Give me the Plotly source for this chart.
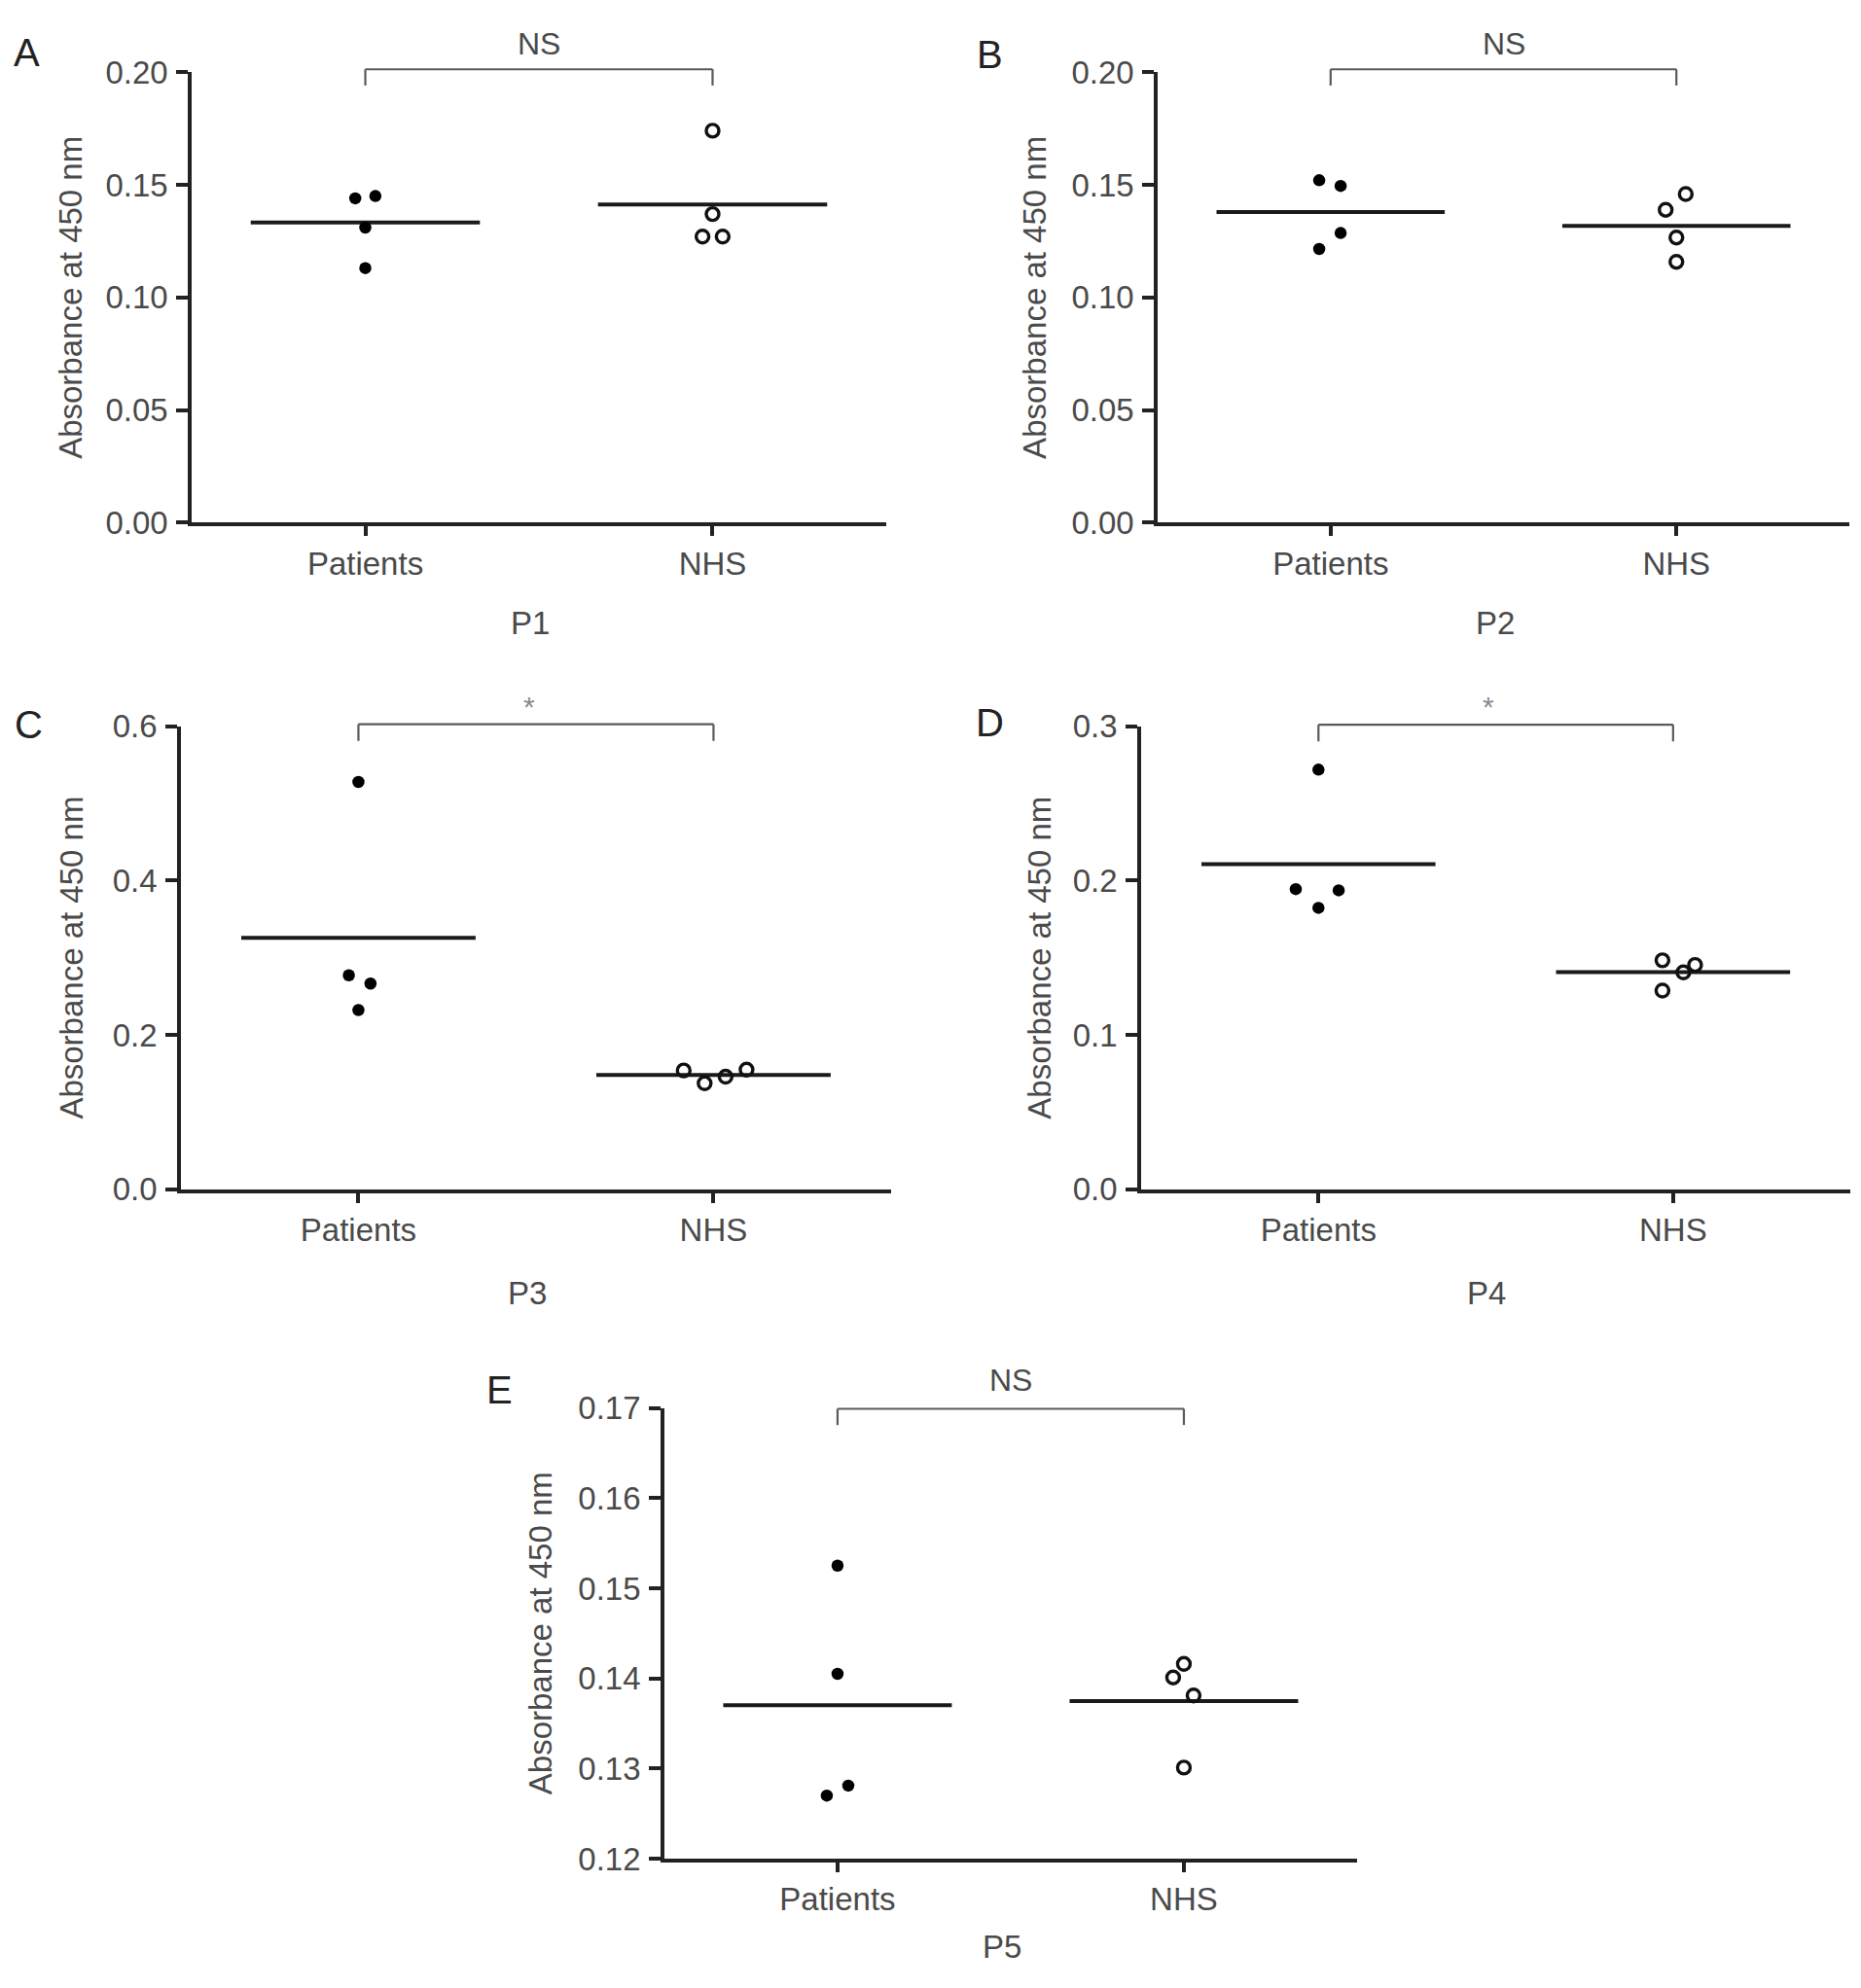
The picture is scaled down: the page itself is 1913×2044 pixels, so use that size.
import numpy as np
import plotly.graph_objects as go

# groups on every panel
groups = ["Patients", "NHS"]

# absorbance values
p1_patients = [0.144, 0.145, 0.131, 0.113]
p1_nhs = [0.174, 0.137, 0.127, 0.127]
p2_patients = [0.152, 0.1495, 0.1286, 0.1215]
p2_nhs = [0.1459, 0.1389, 0.1266, 0.1158]
p3_patients = [0.5276, 0.2772, 0.2665, 0.2322]
p3_nhs = [0.1539, 0.1373, 0.1458, 0.155]
p4_patients = [0.2718, 0.1944, 0.1936, 0.1823]
p4_nhs = [0.1483, 0.1405, 0.1453, 0.1287]
p5_patients = [0.1525, 0.1405, 0.1281, 0.127]
p5_nhs = [0.1416, 0.1401, 0.1381, 0.1301]

p_labels = ["P1", "P2", "P3", "P4", "P5"]
sig_labels = ["NS", "NS", "*", "*", "NS"]
panel_letters = ["A", "B", "C", "D", "E"]

y_tick_vals = [
    [0.0, 0.05, 0.10, 0.15, 0.20],
    [0.0, 0.05, 0.10, 0.15, 0.20],
    [0.0, 0.2, 0.4, 0.6],
    [0.0, 0.1, 0.2, 0.3],
    [0.12, 0.13, 0.14, 0.15, 0.16, 0.17],
]

# horizontal scatter of the dots (category units)
pat_jit = [
    [-0.029, 0.029, 0.0, 0.0],
    [-0.033, 0.029, 0.029, -0.033],
    [0.0, -0.027, 0.034, 0.0],
    [0.0, -0.064, 0.057, 0.0],
    [0.0, 0.0, 0.031, -0.031],
]
nhs_jit = [
    [0.0, 0.0, -0.029, 0.029],
    [0.027, -0.031, 0.0, 0.0],
    [-0.084, -0.025, 0.034, 0.093],
    [-0.03, 0.029, 0.062, -0.03],
    [0.0, -0.031, 0.028, 0.0],
]

panels = [
    (p1_patients, p1_nhs),
    (p2_patients, p2_nhs),
    (p3_patients, p3_nhs),
    (p4_patients, p4_nhs),
    (p5_patients, p5_nhs),
]

# layout of the five panels (paper fractions)
x_domains = [[0.1030, 0.4762], [0.6221, 0.9937], [0.0972, 0.4788], [0.6132, 0.9943], [0.3570, 0.7292]]
y_domains = [[0.7412, 0.9720], [0.7412, 0.9720], [0.3997, 0.6370], [0.3997, 0.6370], [0.0568, 0.2877]]
y_ranges = [[0, 0.2], [0, 0.2], [0, 0.6], [0, 0.3], [0.12, 0.17]]
y_formats = [".2f", ".2f", ".1f", ".1f", ".2f"]
ytitle_shift = [-124, -126, -112, -104, -128]
plabel_shift = [-103, -103, -107, -107, -90]
bracket_top = [1.0064, 1.0064, 1.004, 1.003, 0.998]
letter_pos = [(0.0146, 0.9819), (0.5321, 0.9809), (0.0154, 0.6377), (0.5321, 0.6387), (0.2686, 0.2970)]

FONT = "Liberation Sans"
GREY = "#4a4a4a"
AXIS = "#222222"

fig = go.Figure()
annotations = []
shapes = []

for i, (pat, nhs) in enumerate(panels):
    n = "" if i == 0 else str(i + 1)
    xa, ya = "x" + n, "y" + n

    # mean lines
    for k, vals in enumerate((pat, nhs)):
        m = np.mean(vals)
        fig.add_trace(go.Scatter(
            x=[k - 0.33, k + 0.33], y=[m, m],
            mode="lines", xaxis=xa, yaxis=ya,
            line=dict(color="#1a1a1a", width=4),
        ))

    fig.add_trace(go.Scatter(
        x=[0 + j for j in pat_jit[i]], y=pat,
        mode="markers", xaxis=xa, yaxis=ya,
        marker=dict(size=12.5, color="black"),
        cliponaxis=False,
    ))
    fig.add_trace(go.Scatter(
        x=[1 + j for j in nhs_jit[i]], y=nhs,
        mode="markers", xaxis=xa, yaxis=ya,
        marker=dict(size=13, color="rgba(255,255,255,0)", line=dict(color="#111111", width=3.4)),
        cliponaxis=False,
    ))

    fig.layout["xaxis" + n] = dict(
        domain=x_domains[i], anchor=ya, range=[-0.5, 1.5],
        tickvals=[0, 1], ticktext=groups,
        showline=True, linecolor=AXIS, linewidth=3.6,
        ticks="outside", ticklen=10, tickwidth=3.5, tickcolor=AXIS,
        showgrid=False, zeroline=False, ticklabelstandoff=0,
        tickfont=dict(family=FONT, size=33, color=GREY),
    )
    fig.layout["yaxis" + n] = dict(
        domain=y_domains[i], anchor=xa, range=y_ranges[i],
        tickvals=y_tick_vals[i], tickformat=y_formats[i],
        showline=True, linecolor=AXIS, linewidth=3.6,
        ticks="outside", ticklen=12, tickwidth=3.5, tickcolor=AXIS,
        showgrid=False, zeroline=False, ticklabelstandoff=2,
        tickfont=dict(family=FONT, size=33, color=GREY),
    )

    # significance bracket
    top = bracket_top[i]
    low = top - 0.036
    for x0, y0, x1, y1 in [(0, top, 1, top), (0, low, 0, top), (1, low, 1, top)]:
        shapes.append(dict(
            type="line", xref=xa, yref=ya + " domain",
            x0=x0, y0=y0, x1=x1, y1=y1,
            line=dict(color="#5a5a5a", width=2.2),
        ))
    star = sig_labels[i] == "*"
    annotations.append(dict(
        text=sig_labels[i], xref=xa, yref=ya + " domain",
        x=0.48 if star else 0.5, y=1.042 if star else 1.062, showarrow=False,
        xanchor="center", yanchor="middle",
        font=dict(family=FONT, size=30 if star else 32, color="#8a8a8a" if star else GREY),
    ))
    # y axis title
    annotations.append(dict(
        text="Absorbance at 450 nm", xref=xa + " domain", yref=ya + " domain",
        x=0, y=0.5, xshift=ytitle_shift[i], textangle=-90, showarrow=False,
        xanchor="center", yanchor="middle",
        font=dict(family=FONT, size=33, color=GREY),
    ))
    # panel group label
    annotations.append(dict(
        text=p_labels[i], xref=xa, yref=ya + " domain",
        x=0.475, y=0, yshift=plabel_shift[i], showarrow=False,
        xanchor="center", yanchor="middle",
        font=dict(family=FONT, size=33, color=GREY),
    ))
    # panel letter
    annotations.append(dict(
        text=panel_letters[i], xref="paper", yref="paper",
        x=letter_pos[i][0], y=letter_pos[i][1], showarrow=False,
        xanchor="center", yanchor="middle",
        font=dict(family=FONT, size=40, color="#222222"),
    ))

fig.update_layout(
    width=1913, height=2044,
    margin=dict(l=0, r=0, t=0, b=0),
    paper_bgcolor="white", plot_bgcolor="white",
    showlegend=False,
    annotations=annotations, shapes=shapes,
)

fig.write_html(
    "out.html",
    config={"displayModeBar": False},
    post_script="document.body.style.margin = '0px';",
)
